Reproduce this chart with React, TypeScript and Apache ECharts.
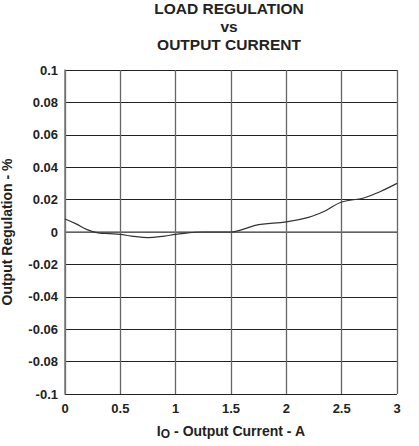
import React, { useEffect, useRef } from "react";
import * as echarts from "echarts";

const titleLines = ["LOAD REGULATION", "vs", "OUTPUT CURRENT"];
const xTicks = [0, 0.5, 1, 1.5, 2, 2.5, 3];
const yTicks = [-0.1, -0.08, -0.06, -0.04, -0.02, 0, 0.02, 0.04, 0.06, 0.08, 0.1];
const currentA = [0, 0.1, 0.2, 0.3, 0.4, 0.5, 0.6, 0.75, 0.9, 1.0, 1.25, 1.5, 1.6, 1.75, 2.0, 2.2, 2.35, 2.5, 2.7, 2.85, 3.0];
const regulationPct = [0.008, 0.005, 0.0015, -0.0005, -0.001, -0.0015, -0.0025, -0.0035, -0.0025, -0.0015, 0, 0, 0.0015, 0.0045, 0.0062, 0.009, 0.013, 0.0185, 0.021, 0.025, 0.03];

const fmt = (v: number) => {
  const r = Math.round(v * 1000) / 1000;
  return String(r);
};

export default function App() {
  const ref = useRef<HTMLDivElement>(null);
  useEffect(() => {
    if (!ref.current) return;
    const chart = echarts.init(ref.current, undefined, { renderer: "svg" });
    const font = "Liberation Sans, Arial, sans-serif";
    chart.setOption({
      animation: false,
      title: {
        text: titleLines.join("\n"),
        left: 229,
        textAlign: "center",
        top: -1,
        padding: 0,
        textStyle: { fontFamily: font, fontWeight: "bold", fontSize: 15.5, lineHeight: 18, color: "#222" },
      },
      grid: { left: 65, right: 22, top: 70, bottom: 52, containLabel: false, outerBoundsMode: "none" },
      xAxis: {
        type: "value",
        min: 0,
        max: 3,
        interval: 0.5,
        axisLine: { show: true, lineStyle: { color: "#777", width: 1.5 } },
        axisTick: { show: false },
        splitLine: { show: true, lineStyle: { color: "#666", width: 1.3 } },
        axisLabel: {
          fontFamily: font,
          fontWeight: "bold",
          fontSize: 13,
          color: "#222",
          margin: 8,
          formatter: (v: number) => fmt(v),
        },
        name: "{a|I}{sub|O}{a| - Output Current - A}",
        nameLocation: "middle",
        nameGap: 27,
        nameTextStyle: {
          rich: {
            a: { fontFamily: font, fontWeight: "bold", fontSize: 14, color: "#222" },
            sub: { fontFamily: font, fontWeight: "bold", fontSize: 12, color: "#222", verticalAlign: "bottom", padding: [7, 0, 0, 0] },
          },
        },
      },
      yAxis: {
        type: "value",
        min: -0.1,
        max: 0.1,
        interval: 0.02,
        axisLine: { show: true, lineStyle: { color: "#777", width: 1.5 } },
        axisTick: { show: false },
        splitLine: { show: true, lineStyle: { color: "#222", width: 1 } },
        axisLabel: {
          fontFamily: font,
          fontWeight: "bold",
          fontSize: 13,
          color: "#222",
          margin: 7,
          formatter: (v: number) => fmt(v),
        },
        name: "Output Regulation - %",
        nameLocation: "middle",
        nameGap: 51,
        nameTextStyle: { fontFamily: font, fontWeight: "bold", fontSize: 14, color: "#222" },
      },
      series: [
        {
          type: "line",
          data: currentA.map((x, i) => [x, regulationPct[i]]),
          smooth: 0.4,
          showSymbol: false,
          lineStyle: { color: "#333", width: 1.2 },
        },
      ],
    });
    return () => chart.dispose();
  }, []);
  return <div ref={ref} style={{ width: 419, height: 446, position: "absolute", left: 0, top: 0 }} />;
}
